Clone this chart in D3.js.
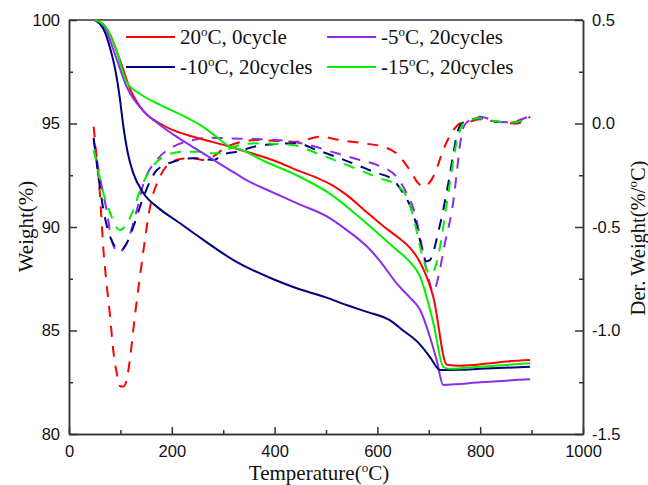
<!DOCTYPE html>
<html>
<head>
<meta charset="utf-8">
<title>TGA / DTG</title>
<script src="https://d3js.org/d3.v7.min.js"></script>
<style>
  body { margin: 0; background: #fff; }
</style>
</head>
<body>
<div id="chart"></div>
<script>
// weight curves, [temperature, weight %]
let w20 = [[50,100],[70,99.7],[80,99.3],[100,98.0],[120,96.6],[145,95.6],[177,95.0],[200,94.7],[242,94.36],[280,94.1],[313,93.88],[350,93.6],[400,93.2],[443,92.75],[480,92.4],[510,92.05],[540,91.55],[573,90.85],[611,90.05],[640,89.5],[663,89.0],[683,88.3],[709,86.6],[735,83.35],[760,83.3],[813,83.4],[850,83.5],[897,83.57]];
let w5 = [[50,100],[70,99.6],[90,98.3],[112,96.78],[145,95.6],[177,94.93],[210,94.35],[242,93.85],[268,93.45],[300,92.95],[320,92.65],[350,92.2],[385,91.8],[443,91.15],[508,90.42],[540,89.86],[586,88.9],[605,88.35],[640,87.2],[663,86.6],[683,86.0],[702,84.7],[715,83.6],[728,82.37],[750,82.4],[800,82.5],[897,82.64]];
let w10 = [[50,100],[70,99.4],[80,98.63],[90,97.6],[99,96.2],[105,95.0],[115,93.5],[125,92.6],[145,91.63],[175,90.9],[209,90.3],[260,89.4],[320,88.4],[400,87.45],[443,87.04],[500,86.6],[540,86.23],[580,85.9],[624,85.5],[650,85.0],[680,84.4],[702,83.73],[722,83.09],[760,83.1],[800,83.15],[897,83.25]];
let w15 = [[50,100],[70,99.7],[90,98.7],[112,97.0],[140,96.4],[177,95.9],[220,95.4],[255,94.93],[290,94.3],[313,93.88],[333,93.75],[378,93.2],[443,92.5],[508,91.6],[573,90.3],[637,88.9],[660,88.4],[683,87.6],[709,85.35],[728,83.25],[740,83.15],[800,83.25],[897,83.42]];

// derivative curves, [temperature, %/°C]
let d20 = [[48,-0.015],[55,-0.2],[60,-0.337],[67,-0.61],[73,-0.772],[80,-0.933],[86,-1.094],[93,-1.207],[100,-1.27],[106,-1.27],[112,-1.24],[119,-1.13],[128,-0.933],[138,-0.74],[145,-0.61],[158,-0.40],[177,-0.257],[196,-0.192],[220,-0.17],[242,-0.168],[260,-0.176],[280,-0.16],[307,-0.112],[365,-0.08],[443,-0.088],[488,-0.064],[527,-0.08],[573,-0.096],[611,-0.112],[637,-0.144],[663,-0.225],[680,-0.29],[689,-0.305],[700,-0.29],[712,-0.24],[728,-0.128],[748,-0.031],[761,0.0],[780,0.009],[800,0.02],[832,0.009],[871,0.0],[897,0.033]];
let d5 = [[48,-0.08],[60,-0.257],[73,-0.418],[83,-0.563],[90,-0.61],[96,-0.625],[104,-0.61],[112,-0.579],[132,-0.418],[145,-0.289],[171,-0.176],[203,-0.112],[242,-0.08],[268,-0.068],[313,-0.072],[404,-0.08],[460,-0.1],[521,-0.144],[566,-0.176],[599,-0.2],[637,-0.257],[657,-0.337],[673,-0.434],[683,-0.547],[695,-0.7],[709,-0.813],[720,-0.724],[730,-0.595],[748,-0.37],[755,-0.225],[761,-0.096],[768,-0.015],[780,0.017],[800,0.033],[832,0.01],[864,0.006],[877,0.017],[897,0.036]];
let d10 = [[48,-0.07],[57,-0.25],[67,-0.418],[80,-0.547],[92,-0.6],[102,-0.61],[112,-0.58],[125,-0.5],[145,-0.354],[171,-0.225],[203,-0.185],[242,-0.168],[281,-0.176],[300,-0.15],[326,-0.136],[378,-0.104],[443,-0.096],[482,-0.128],[527,-0.168],[592,-0.233],[631,-0.273],[650,-0.337],[667,-0.418],[680,-0.53],[688,-0.62],[695,-0.665],[702,-0.66],[710,-0.61],[718,-0.53],[728,-0.418],[738,-0.289],[748,-0.144],[757,-0.031],[770,0.009],[800,0.025],[832,0.008],[864,0.005],[897,0.035]];
let d15 = [[48,-0.128],[57,-0.23],[67,-0.337],[83,-0.45],[92,-0.5],[99,-0.515],[108,-0.5],[125,-0.418],[141,-0.305],[158,-0.225],[184,-0.16],[222,-0.136],[255,-0.136],[268,-0.144],[294,-0.144],[320,-0.112],[365,-0.096],[436,-0.104],[482,-0.144],[540,-0.2],[605,-0.265],[637,-0.297],[657,-0.354],[670,-0.45],[683,-0.595],[695,-0.7],[703,-0.73],[715,-0.675],[722,-0.595],[732,-0.434],[741,-0.289],[751,-0.128],[761,-0.031],[770,0.009],[800,0.025],[832,0.01],[864,0.005],[897,0.036]];

let temps = ["20", "-5", "-10", "-15"];
let cycles = ["0cycle", "20cycles", "20cycles", "20cycles"];
let xTicks = [0, 200, 400, 600, 800, 1000];
let yTicks = [80, 85, 90, 95, 100];
let dTicks = [-1.5, -1.0, -0.5, 0.0, 0.5];

let colors = ["#ff0000", "#8b2cf0", "#000080", "#00f000"];

let margin = {top: 20, right: 65, bottom: 51, left: 69};
let w = 648 - margin.left - margin.right;
let h = 485 - margin.top - margin.bottom;

let svg = d3.select("#chart")
    .append("svg")
        .attr("width", 648)
        .attr("height", 485)
    .append("g")
        .attr("transform", "translate(" + margin.left + "," + margin.top + ")");

let xScale = d3.scaleLinear().domain([0, 1000]).range([0, w]);
let yScale = d3.scaleLinear().domain([80, 100]).range([h, 0]);
let dScale = d3.scaleLinear().domain([-1.5, 0.5]).range([h, 0]);

let axisColor = "#333";

// minor ticks
svg.append("g")
    .attr("transform", "translate(0," + h + ")")
    .call(d3.axisBottom(xScale).tickValues(d3.range(100, 1000, 200)).tickSizeInner(-4).tickSizeOuter(0).tickFormat(""));
svg.append("g")
    .call(d3.axisLeft(yScale).tickValues([82.5, 87.5, 92.5, 97.5]).tickSizeInner(-4).tickSizeOuter(0).tickFormat(""));
svg.append("g")
    .attr("transform", "translate(" + w + ",0)")
    .call(d3.axisRight(dScale).tickValues([-1.25, -0.75, -0.25, 0.25]).tickSizeInner(-4).tickSizeOuter(0).tickFormat(""));

// major ticks + labels
svg.append("g")
    .attr("class", "ax")
    .attr("transform", "translate(0," + h + ")")
    .call(d3.axisBottom(xScale).tickValues(xTicks).tickSizeInner(-7).tickSizeOuter(0).tickPadding(11).tickFormat(d3.format("d")));
svg.append("g")
    .attr("class", "ax")
    .call(d3.axisLeft(yScale).tickValues(yTicks).tickSizeInner(-8).tickSizeOuter(0).tickPadding(9).tickFormat(d3.format("d")));
svg.append("g")
    .attr("class", "ax")
    .attr("transform", "translate(" + w + ",0)")
    .call(d3.axisRight(dScale).tickValues(dTicks).tickSizeInner(-8).tickSizeOuter(0).tickPadding(9)
        .tickFormat(function(d) { return d3.format(".1f")(d).replace("−", "-"); }));

svg.selectAll(".domain, .tick line")
    .attr("stroke", axisColor)
    .attr("stroke-width", 1.5);
svg.selectAll(".ax text")
    .attr("font-family", "'Liberation Sans', Arial, sans-serif")
    .attr("font-size", "16.5px")
    .attr("fill", "#111");

// top border
svg.append("line")
    .attr("x1", 0).attr("x2", w)
    .attr("y1", 0).attr("y2", 0)
    .attr("stroke", axisColor)
    .attr("stroke-width", 1.5);

// curves
let wLine = d3.line()
    .x(function(d) { return xScale(d[0]); })
    .y(function(d) { return yScale(d[1]); })
    .curve(d3.curveMonotoneX);
let dLine = d3.line()
    .x(function(d) { return xScale(d[0]); })
    .y(function(d) { return dScale(d[1]); })
    .curve(d3.curveMonotoneX);

let dSeries = [d20, d5, d10, d15];
let wSeries = [w20, w5, w10, w15];

svg.selectAll(".dcurve")
    .data(dSeries)
    .enter()
    .append("path")
    .attr("class", "dcurve")
    .attr("d", dLine)
    .attr("fill", "none")
    .attr("stroke", function(d, i) { return colors[i]; })
    .attr("stroke-width", 2)
    .attr("stroke-dasharray", "11,9");

svg.selectAll(".wcurve")
    .data(wSeries)
    .enter()
    .append("path")
    .attr("class", "wcurve")
    .attr("d", wLine)
    .attr("fill", "none")
    .attr("stroke", function(d, i) { return colors[i]; })
    .attr("stroke-width", 2);

// legend
let legX = [57, 258];
let legY = [17, 47];
let serif = "'Liberation Serif', 'Times New Roman', serif";

temps.forEach(function(t, i) {
    let gx = legX[i % 2];
    let gy = legY[Math.floor(i / 2)];
    svg.append("line")
        .attr("x1", gx).attr("x2", gx + 49)
        .attr("y1", gy).attr("y2", gy)
        .attr("stroke", colors[i])
        .attr("stroke-width", 2);
    let txt = svg.append("text")
        .attr("x", gx + 54)
        .attr("y", gy + 6.5)
        .attr("font-family", serif)
        .attr("font-size", "21px")
        .attr("fill", "#111");
    txt.append("tspan").text(t);
    txt.append("tspan").attr("font-size", "13px").attr("dy", "-8").text("o");
    txt.append("tspan").attr("dy", "8").text("C, " + cycles[i]);
});

// axis titles
let xt = svg.append("text")
    .attr("x", w / 2 - 7)
    .attr("y", h + 46)
    .attr("text-anchor", "middle")
    .attr("font-family", serif)
    .attr("font-size", "21px")
    .attr("fill", "#111");
xt.append("tspan").text("Temperature(");
xt.append("tspan").attr("font-size", "13px").attr("dy", "-8").text("o");
xt.append("tspan").attr("dy", "8").text("C)");

svg.append("text")
    .attr("transform", "rotate(-90)")
    .attr("x", -206.5)
    .attr("y", -36)
    .attr("text-anchor", "middle")
    .attr("font-family", serif)
    .attr("font-size", "21px")
    .attr("fill", "#111")
    .text("Weight(%)");

let dt = svg.append("text")
    .attr("transform", "rotate(-90)")
    .attr("x", -218)
    .attr("y", w + 62)
    .attr("text-anchor", "middle")
    .attr("font-family", serif)
    .attr("font-size", "20.5px")
    .attr("fill", "#111");
dt.append("tspan").text("Der. Weight(%/");
dt.append("tspan").attr("font-size", "13px").attr("dy", "-8").text("o");
dt.append("tspan").attr("dy", "8").text("C)");
</script>
</body>
</html>
